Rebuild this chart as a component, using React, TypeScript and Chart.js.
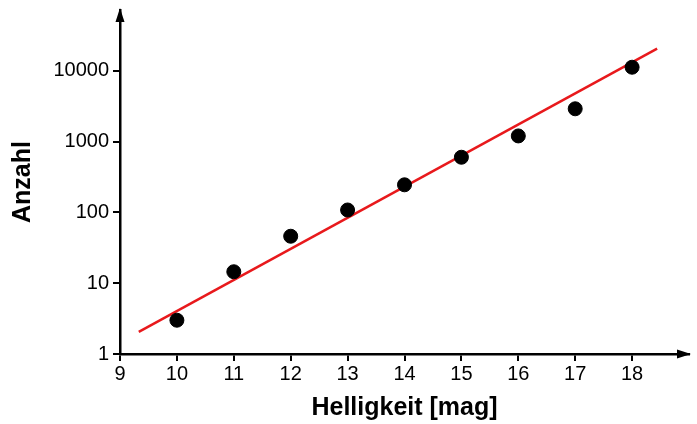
import React, { useEffect, useRef } from "react";
import { Chart, registerables } from "chart.js";

Chart.register(...registerables);

const MAGNITUDES = [10, 11, 12, 13, 14, 15, 16, 17, 18];
const COUNTS = [3, 14.5, 46, 108, 245, 600, 1200, 2900, 11200];
const FIT_X = [9.33, 18.44];
const FIT_Y = [2.05, 20500];
const X_TICKS = [9, 10, 11, 12, 13, 14, 15, 16, 17, 18];
const Y_TICKS = [1, 10, 100, 1000, 10000];

const FONT = "'Liberation Sans', Arial, Helvetica, sans-serif";

const arrowPlugin = {
  id: "axisArrows",
  afterDraw(chart: any) {
    const { ctx, chartArea } = chart;
    ctx.save();
    ctx.fillStyle = "#000";
    const x0 = chartArea.left;
    const yTop = chartArea.top;
    ctx.beginPath();
    ctx.moveTo(x0, yTop - 2);
    ctx.lineTo(x0 - 4.5, yTop + 12);
    ctx.lineTo(x0 + 4.5, yTop + 12);
    ctx.closePath();
    ctx.fill();
    const y0 = chartArea.bottom;
    const xRight = chartArea.right;
    ctx.beginPath();
    ctx.moveTo(xRight + 2, y0);
    ctx.lineTo(xRight - 12, y0 - 4.5);
    ctx.lineTo(xRight - 12, y0 + 4.5);
    ctx.closePath();
    ctx.fill();
    ctx.restore();
  },
};

export default function App() {
  const ref = useRef<HTMLCanvasElement>(null);
  useEffect(() => {
    document.body.style.margin = "0";
    const canvas = ref.current;
    if (!canvas) return;
    const chart = new Chart(canvas, {
      type: "scatter",
      data: {
        datasets: [
          {
            label: "Fit",
            data: FIT_X.map((x, i) => ({ x, y: FIT_Y[i] })),
            showLine: true,
            borderColor: "#e8191c",
            borderWidth: 2.5,
            pointRadius: 0,
            order: 2,
          },
          {
            label: "Anzahl",
            data: MAGNITUDES.map((x, i) => ({ x, y: COUNTS[i] })),
            backgroundColor: "#000",
            borderColor: "#000",
            pointRadius: 7,
            pointHoverRadius: 7,
            order: 1,
          },
        ],
      },
      options: {
        animation: false,
        responsive: false,
        layout: { padding: { top: 10, right: 7, left: 0, bottom: 0 } },
        plugins: { legend: { display: false }, tooltip: { enabled: false } },
        scales: {
          x: {
            type: "linear",
            min: 9,
            max: 19,
            afterBuildTicks: (s: any) => {
              s.ticks = X_TICKS.map((v) => ({ value: v }));
            },
            afterFit: (s: any) => {
              s.height = 70;
              s.paddingLeft = 0;
              s.paddingRight = 0;
            },
            grid: {
              drawOnChartArea: false,
              drawTicks: true,
              tickLength: 7,
              color: "#000",
              lineWidth: 2,
            },
            border: { color: "#000", width: 2.5 },
            ticks: {
              color: "#000",
              font: { family: FONT, size: 20 },
              padding: 1,
              maxRotation: 0,
              autoSkip: false,
              callback: (v: any) => String(v),
            },
            title: {
              display: true,
              text: "Helligkeit [mag]",
              color: "#000",
              font: { family: FONT, size: 25, weight: "bold" },
              padding: { top: 0, bottom: 1 },
            },
          },
          y: {
            type: "logarithmic",
            min: 1,
            max: 72000,
            afterBuildTicks: (s: any) => {
              s.ticks = Y_TICKS.map((v) => ({ value: v }));
            },
            afterFit: (s: any) => {
              s.width = 120;
              s.paddingTop = 0;
              s.paddingBottom = 0;
            },
            grid: {
              drawOnChartArea: false,
              drawTicks: true,
              tickLength: 7,
              color: "#000",
              lineWidth: 2,
            },
            border: { color: "#000", width: 2.5 },
            ticks: {
              color: "#000",
              font: { family: FONT, size: 20 },
              padding: 4,
              autoSkip: false,
              callback: (v: any) => String(v),
            },
            title: {
              display: true,
              text: "Anzahl",
              color: "#000",
              font: { family: FONT, size: 25, weight: "bold" },
              padding: { top: 8, bottom: 0 },
            },
          },
        },
      },
      plugins: [arrowPlugin],
    } as any);
    return () => chart.destroy();
  }, []);
  return (
    <div style={{ width: 697, height: 424 }}>
      <canvas ref={ref} width={697} height={424} />
    </div>
  );
}
